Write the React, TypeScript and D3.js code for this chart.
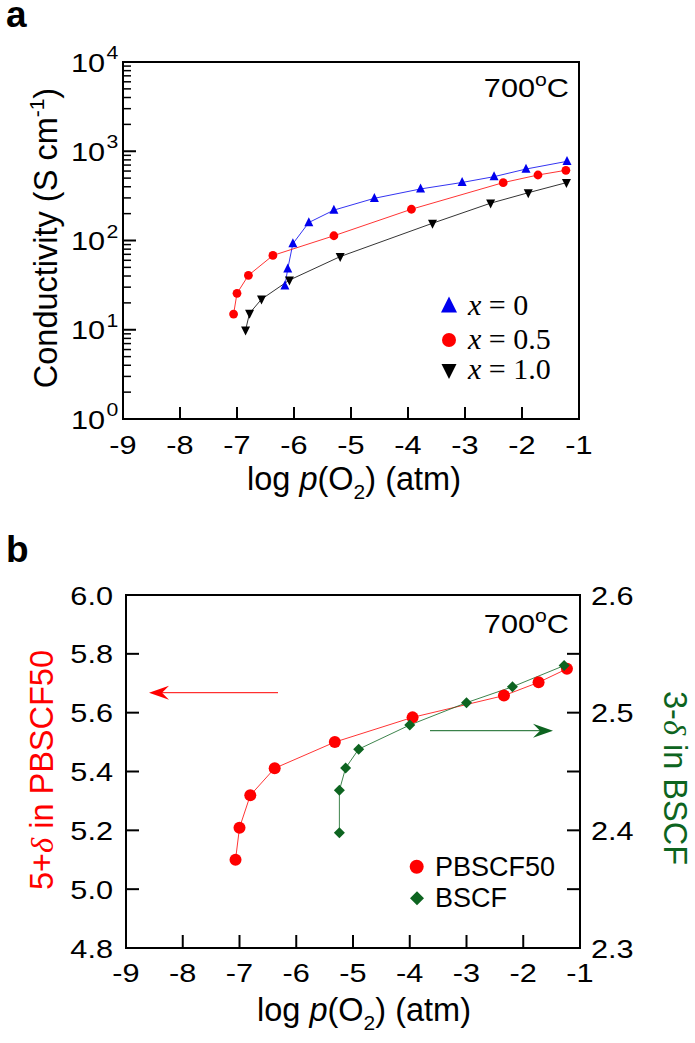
import React from "react";
import * as d3 from "d3";

// Panel a: conductivity vs log pO2
const aX0 = [-6.16, -6.11, -6.02, -5.74, -5.30, -4.59, -3.78, -3.05, -2.49, -1.93, -1.21];
const aY0 = [31, 48, 92, 159, 219, 297, 378, 447, 519, 632, 771];
const aX05 = [-7.06, -7.0, -6.80, -6.37, -5.30, -3.94, -2.33, -1.72, -1.23];
const aY05 = [15, 25.6, 40.7, 68, 113, 224, 445, 542, 612];
const aX1 = [-6.85, -6.78, -6.57, -6.08, -5.19, -3.57, -2.55, -1.89, -1.22];
const aY1 = [9.9, 15.3, 22, 36, 66, 156, 262, 343, 445];

// Panel b: oxygen content
const bXP = [-7.07, -7.0, -6.81, -6.38, -5.32, -3.95, -2.34, -1.73, -1.23];
const bYP = [5.10, 5.209, 5.319, 5.411, 5.50, 5.584, 5.658, 5.703, 5.749];
const bXB = [-5.24, -5.24, -5.13, -4.90, -4.0, -3.0, -2.19, -1.28];
const bYB = [2.398, 2.434, 2.453, 2.469, 2.4895, 2.5085, 2.522, 2.540];

const xTicks = [-9, -8, -7, -6, -5, -4, -3, -2, -1];
const aYExp = [0, 1, 2, 3, 4];
const bYLTicks = [4.8, 5.0, 5.2, 5.4, 5.6, 5.8, 6.0];
const bYRTicks = [2.3, 2.4, 2.5, 2.6];

const SANS = "'Liberation Sans', Arial, sans-serif";
const SERIF = "'Liberation Serif', 'Times New Roman', serif";
const BLUE = "#0000ee";
const RED = "#ff0000";
const GREEN = "#0d6420";
const SX = 1.18;

const xA = d3.scaleLinear().domain([-9, -1]).range([123, 579]);
const yA = d3.scaleLog().domain([1, 1e4]).range([419, 62]);
const xB = d3.scaleLinear().domain([-9, -1]).range([126, 580]);
const yBL = d3.scaleLinear().domain([4.8, 6.0]).range([948, 595]);
const yBR = d3.scaleLinear().domain([2.3, 2.6]).range([948, 595]);

const triUp = (cx: number, cy: number, s: number) =>
  `M${cx},${cy - s * 0.6}L${cx + s / 2},${cy + s * 0.4}L${cx - s / 2},${cy + s * 0.4}Z`;
const triDown = (cx: number, cy: number, s: number) =>
  `M${cx},${cy + s * 0.6}L${cx + s / 2},${cy - s * 0.4}L${cx - s / 2},${cy - s * 0.4}Z`;
const diamond = (cx: number, cy: number, r: number) =>
  `M${cx},${cy - r}L${cx + r},${cy}L${cx},${cy + r}L${cx - r},${cy}Z`;

function zip(xs: number[], ys: number[]): [number, number][] {
  return xs.map((x, i) => [x, ys[i]]);
}

function SText(props: { x: number; y: number; size: number; anchor?: string; children: React.ReactNode }) {
  return (
    <text transform={`translate(${props.x},${props.y}) scale(${SX},1)`} fontSize={props.size}
      textAnchor={props.anchor || "start"}>
      {props.children}
    </text>
  );
}

export default function App() {
  const lineA = (xs: number[], ys: number[]) =>
    d3.line<[number, number]>().x((d) => xA(d[0])).y((d) => yA(d[1]))(zip(xs, ys)) || "";
  const lineBL = d3.line<[number, number]>().x((d) => xB(d[0])).y((d) => yBL(d[1]));
  const lineBR = d3.line<[number, number]>().x((d) => xB(d[0])).y((d) => yBR(d[1]));

  const minor: number[] = [];
  for (let e = 0; e < 4; e++) for (let k = 2; k <= 9; k++) minor.push(k * Math.pow(10, e));

  const redY = 692.7;
  const greenY = 730.7;
  const rTip = 149, rTail = 278;
  const gTip = 553, gTail = 430;

  return (
    <svg width={695} height={1043} style={{ position: "absolute", left: 0, top: 0, background: "#fff" }}
      fontFamily={SANS}>
      <rect x={0} y={0} width={695} height={1043} fill="#fff" />
      {/* ---------- Panel a ---------- */}
      <text x={6} y={27} fontSize={37} fontWeight="bold">a</text>
      <path d={lineA(aX0, aY0)} fill="none" stroke={BLUE} strokeWidth={0.8} />
      <path d={lineA(aX05, aY05)} fill="none" stroke={RED} strokeWidth={0.8} />
      <path d={lineA(aX1, aY1)} fill="none" stroke="#000" strokeWidth={0.8} />
      {aX0.map((x, i) => <path key={"b" + i} d={triUp(xA(x), yA(aY0[i]), 9)} fill={BLUE} />)}
      {aX05.map((x, i) => <circle key={"r" + i} cx={xA(x)} cy={yA(aY05[i])} r={4.4} fill={RED} />)}
      {aX1.map((x, i) => <path key={"k" + i} d={triDown(xA(x), yA(aY1[i]), 9)} fill="#000" />)}
      <rect x={123} y={62} width={456} height={357} fill="none" stroke="#000" strokeWidth={2} />
      {aYExp.map((e) => (
        <g key={"ya" + e}>
          <line x1={123} x2={136} y1={yA(Math.pow(10, e))} y2={yA(Math.pow(10, e))} stroke="#000" strokeWidth={2} />
          <SText x={105} y={yA(Math.pow(10, e)) + 9.5} size={26} anchor="end">10</SText>
          <SText x={106.5} y={yA(Math.pow(10, e)) - 3} size={18}>{e}</SText>
        </g>
      ))}
      {minor.map((v, i) => (
        <line key={"ma" + i} x1={123} x2={131} y1={yA(v)} y2={yA(v)} stroke="#000" strokeWidth={1.5} />
      ))}
      {xTicks.map((t) => (
        <g key={"xa" + t}>
          {t > -9 && t < -1 && <line x1={xA(t)} x2={xA(t)} y1={419} y2={407} stroke="#000" strokeWidth={2} />}
          <SText x={xA(t)} y={454} size={26} anchor="middle">{t}</SText>
        </g>
      ))}
      <text x={354} y={490} fontSize={32.5} textAnchor="middle">
        log <tspan fontStyle="italic">p</tspan>(O<tspan fontSize={21} dy={9}>2</tspan><tspan dy={-9}>) (atm)</tspan>
      </text>
      <text transform="translate(57,238) rotate(-90)" fontSize={32.5} textAnchor="middle">
        Conductivity (S cm<tspan fontSize={21} dy={-13}>-1</tspan><tspan dy={13}>)</tspan>
      </text>
      <SText x={569} y={97} size={26} anchor="end">
        700<tspan fontSize={18} dy={-11}>o</tspan><tspan dy={11}>C</tspan>
      </SText>
      <path d={triUp(449, 306, 16)} fill={BLUE} />
      <circle cx={449} cy={340} r={7} fill={RED} />
      <path d={triDown(449, 370, 15)} fill="#000" />
      <text x={468} y={315} fontSize={30} fontFamily={SERIF}><tspan fontStyle="italic">x</tspan> = 0</text>
      <text x={468} y={349} fontSize={30} fontFamily={SERIF}><tspan fontStyle="italic">x</tspan> = 0.5</text>
      <text x={468} y={379} fontSize={30} fontFamily={SERIF}><tspan fontStyle="italic">x</tspan> = 1.0</text>

      {/* ---------- Panel b ---------- */}
      <text x={6} y={562} fontSize={37} fontWeight="bold">b</text>
      <path d={lineBL(zip(bXP, bYP)) || ""} fill="none" stroke={RED} strokeWidth={0.8} />
      <path d={lineBR(zip(bXB, bYB)) || ""} fill="none" stroke={GREEN} strokeWidth={0.8} />
      {bXP.map((x, i) => <circle key={"p" + i} cx={xB(x)} cy={yBL(bYP[i])} r={6} fill={RED} />)}
      {bXB.map((x, i) => <path key={"g" + i} d={diamond(xB(x), yBR(bYB[i]), 5.5)} fill={GREEN} />)}
      <rect x={126} y={595} width={454} height={353} fill="none" stroke="#000" strokeWidth={2} />
      {bYLTicks.map((t) => (
        <g key={"yl" + t}>
          {t > 4.8 && t < 6.0 && (
            <>
              <line x1={126} x2={139} y1={yBL(t)} y2={yBL(t)} stroke="#000" strokeWidth={2} />
              <line x1={580} x2={567} y1={yBL(t)} y2={yBL(t)} stroke="#000" strokeWidth={2} />
            </>
          )}
          <SText x={113} y={yBL(t) + 9.5} size={26} anchor="end">{t.toFixed(1)}</SText>
        </g>
      ))}
      {bYRTicks.map((t) => (
        <SText key={"yr" + t} x={591} y={yBR(t) + 9.5} size={26}>{t.toFixed(1)}</SText>
      ))}
      {xTicks.map((t) => (
        <g key={"xb" + t}>
          {t > -9 && t < -1 && <line x1={xB(t)} x2={xB(t)} y1={948} y2={935} stroke="#000" strokeWidth={2} />}
          <SText x={xB(t)} y={982} size={26} anchor="middle">{t}</SText>
        </g>
      ))}
      <text x={364} y={1021} fontSize={32.5} textAnchor="middle">
        log <tspan fontStyle="italic">p</tspan>(O<tspan fontSize={21} dy={9}>2</tspan><tspan dy={-9}>) (atm)</tspan>
      </text>
      <text transform="translate(53,770) rotate(-90)" fontSize={32.5} textAnchor="middle" fill={RED}>
        5+<tspan fontStyle="italic" fontFamily={SERIF}>δ</tspan> in PBSCF50
      </text>
      <text transform="translate(664,778) rotate(90)" fontSize={32.5} textAnchor="middle" fill={GREEN}>
        3-<tspan fontStyle="italic" fontFamily={SERIF}>δ</tspan> in BSCF
      </text>
      <SText x={569} y={633} size={26} anchor="end">
        700<tspan fontSize={18} dy={-11}>o</tspan><tspan dy={11}>C</tspan>
      </SText>
      <line x1={rTail} x2={rTip + 12} y1={redY} y2={redY} stroke={RED} strokeWidth={1} />
      <path d={`M${rTip},${redY}L${rTip + 20},${redY - 7}L${rTip + 13},${redY}L${rTip + 20},${redY + 7}Z`} fill={RED} />
      <line x1={gTail} x2={gTip - 12} y1={greenY} y2={greenY} stroke={GREEN} strokeWidth={1} />
      <path d={`M${gTip},${greenY}L${gTip - 20},${greenY - 7}L${gTip - 13},${greenY}L${gTip - 20},${greenY + 7}Z`} fill={GREEN} />
      <circle cx={416.7} cy={866.7} r={7} fill={RED} />
      <path d={diamond(417, 898.3, 7)} fill={GREEN} />
      <text x={435} y={876} fontSize={27}>PBSCF50</text>
      <text x={435} y={907} fontSize={27}>BSCF</text>
    </svg>
  );
}
